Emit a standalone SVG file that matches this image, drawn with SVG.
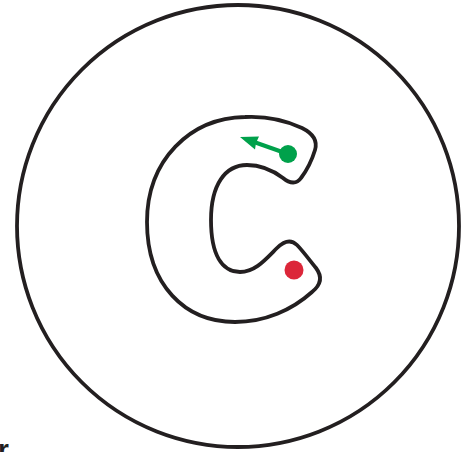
<svg xmlns="http://www.w3.org/2000/svg" width="473" height="452" viewBox="0 0 473 452">
<style>
.outline{fill:none;stroke:#231f20;stroke-width:3.8;stroke-linejoin:round}
.lbl{font-family:"Liberation Sans",Arial,sans-serif;font-weight:bold;fill:#231f20}
.arrow{stroke:#00a14b;stroke-width:4;fill:none}
.head{fill:#00a14b}
</style>
<rect width="473" height="452" fill="#fff"/>
<g id="boundary">
<circle cx="238" cy="226" r="221" class="outline"/>
</g>
<g id="c-shape">
<path class="outline" d="M 315,150 C 318,140 312,133 302,128 C 285,120 265,116 245,117 C 190,118 147,160 147,222 C 147,285 185,322 235,322 C 265,322 292,310 312,292 C 322,284 322,276 316,268 C 308,258 302,250 297,245 C 290,238 283,242 277,248 C 265,260 255,272 240,272 C 222,272 211,255 211,220 C 211,185 225,165 247,165 C 262,165 275,172 283,178 C 290,184 297,184 301,178 C 307,170 312,160 315,150 Z"/>
</g>
<g id="start">
<circle cx="288" cy="154" r="9" fill="#00a14b"/>
</g>
<g id="end">
<circle cx="294" cy="270" r="9.5" fill="#dc2639"/>
</g>
<g id="connectors">
<line class="arrow" x1="288" y1="154" x2="254" y2="142"/>
<path class="head" d="M 240,137 L 259,136.5 L 256,143 L 255,149.5 Z"/>
</g>
<text class="lbl" x="-2" y="459" font-size="28">r</text>
</svg>
